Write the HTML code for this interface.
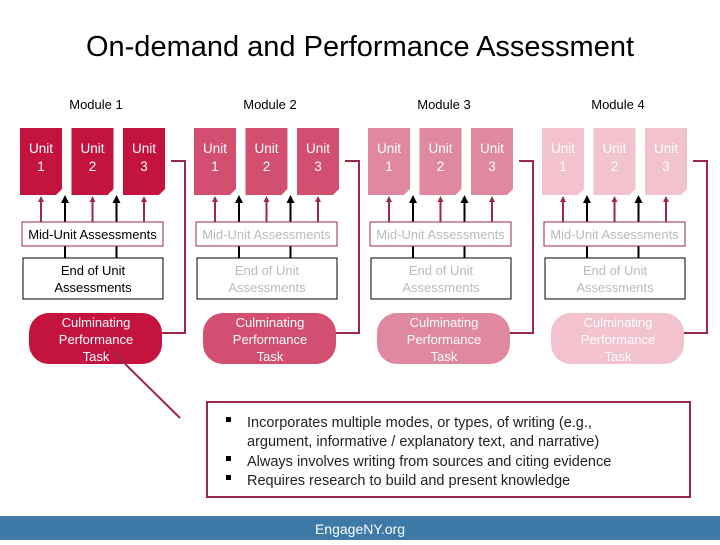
<!DOCTYPE html>
<html><head><style>
body{margin:0;width:720px;height:540px;overflow:hidden;background:#fff;font-family:"Liberation Sans",sans-serif}
</style></head><body>
<svg width="720" height="540" xmlns="http://www.w3.org/2000/svg" font-family="Liberation Sans, sans-serif">
<defs>
<marker id="ab" markerWidth="4" markerHeight="4" refX="2" refY="2" orient="auto"><path d="M0,0 L4,2 L0,4z" fill="#000"/></marker>
<marker id="ar" markerWidth="3" markerHeight="3" refX="1.5" refY="1.5" orient="auto"><path d="M0,0 L3,1.5 L0,3z" fill="#9a2848"/></marker>
</defs>
<text x="360" y="56" text-anchor="middle" font-size="29" fill="#000">On-demand and Performance Assessment</text>
<g id="m"></g>
<line x1="113" y1="352" x2="180" y2="418" stroke="#9a2848" stroke-width="2"/>
<rect x="207" y="402" width="483" height="95" fill="#fff" stroke="#9a2848" stroke-width="2"/>
<g font-size="14.5" fill="#222">
<rect x="226" y="417" width="5" height="5" fill="#000"/><text x="247" y="427">Incorporates multiple modes, or types, of writing (e.g.,</text>
<text x="247" y="446">argument, informative / explanatory text, and narrative)</text>
<rect x="226" y="456" width="5" height="5" fill="#000"/><text x="247" y="466">Always involves writing from sources and citing evidence</text>
<rect x="226" y="475" width="5" height="5" fill="#000"/><text x="247" y="485">Requires research to build and present knowledge</text>
</g>
<rect x="0" y="516" width="720" height="24" fill="#3d7aa8"/>
<text x="360" y="534" text-anchor="middle" font-size="14" fill="#fff">EngageNY.org</text>
</svg>
<script>
var g=document.getElementById('m');var h='';
var cols=['#c4133f','#d24f6f','#e0889f','#f2c3cf'];
var mt=['#000','#bbb','#bbb','#bbb'];
for(var i=0;i<4;i++){var o=i*174;var c=cols[i];
h+='<text x="'+(96+o)+'" y="109" text-anchor="middle" font-size="13" fill="#000">Module '+(i+1)+'</text>';
for(var u=0;u<3;u++){var x=20+o+u*51.5;
h+='<path d="M'+x+',128 h42 v61 l-6,6 h-36z" fill="'+c+'"/>';
h+='<text x="'+(x+21)+'" y="153" text-anchor="middle" font-size="13.5" fill="#fff">Unit</text><text x="'+(x+21)+'" y="171" text-anchor="middle" font-size="13.5" fill="#fff">'+(u+1)+'</text>';
h+='<line x1="'+(x+21)+'" y1="222" x2="'+(x+21)+'" y2="199" stroke="#9a2848" stroke-width="2" marker-end="url(#ar)"/>';
}
for(var k=0;k<2;k++){var ax=65+o+k*51.5;
h+='<line x1="'+ax+'" y1="258" x2="'+ax+'" y2="199" stroke="#000" stroke-width="2" marker-end="url(#ab)"/>';}
h+='<rect x="'+(22+o)+'" y="222" width="141" height="24" fill="#fff" stroke="#9a2848" stroke-width="1"/>';
h+='<text x="'+(92.5+o)+'" y="239" text-anchor="middle" font-size="13" fill="'+mt[i]+'">Mid-Unit Assessments</text>';
h+='<rect x="'+(23+o)+'" y="258" width="140" height="41" fill="#fff" stroke="#000" stroke-width="1"/>';
h+='<text x="'+(93+o)+'" y="275" text-anchor="middle" font-size="13" fill="'+mt[i]+'">End of Unit</text><text x="'+(93+o)+'" y="292" text-anchor="middle" font-size="13" fill="'+mt[i]+'">Assessments</text>';
h+='<rect x="'+(29+o)+'" y="313" width="133" height="51" rx="20" fill="'+c+'"/>';
h+='<text x="'+(96+o)+'" y="327" text-anchor="middle" font-size="13" fill="#fff">Culminating</text><text x="'+(96+o)+'" y="344" text-anchor="middle" font-size="13" fill="#fff">Performance</text><text x="'+(96+o)+'" y="361" text-anchor="middle" font-size="13" fill="#fff">Task</text>';
h+='<polyline points="'+(162+o)+',333 '+(185+o)+',333 '+(185+o)+',161 '+(171+o)+',161" fill="none" stroke="#9a2848" stroke-width="2"/>';
}
g.innerHTML=h;
</script>
</body></html>
